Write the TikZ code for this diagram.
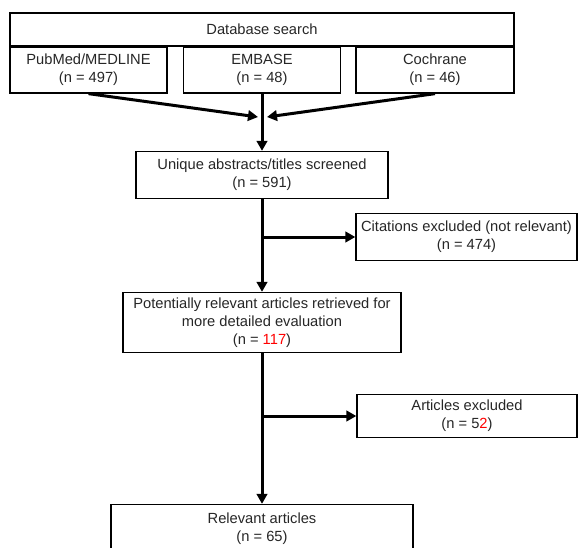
\documentclass[tikz,border=0pt]{standalone}
\usepackage{fontspec}
\setmainfont{Liberation Sans}
\usetikzlibrary{arrows.meta}

\begin{document}
\begin{tikzpicture}[x=1pt,y=-1pt,
	box/.style={draw=black, line width=1.3pt, align=center, inner sep=0pt, text=black!85, font=\fontsize{14.7}{18}\selectfont},
	flow/.style={line width=3pt, -{Triangle[length=10pt,width=10.5pt]}}]
	\useasboundingbox (0,0) rectangle (578,548);
	\node (DB) at (262,29.5)	[box, minimum width=504, minimum height=33]	{Database search};
	\node (PM) at (88.5,70)		[box, minimum width=157, minimum height=46]	{PubMed/MEDLINE\\(n = 497)};
	\node (EM) at (262,70)		[box, minimum width=157, minimum height=46]	{EMBASE\\(n = 48)};
	\node (CO) at (435,70)		[box, minimum width=158, minimum height=46]	{Cochrane\\(n = 46)};
	\node (UQ) at (262,175)		[box, minimum width=252, minimum height=47]	{Unique abstracts/titles screened\\(n = 591)};
	\node (CE) at (466.5,237)	[box, minimum width=221, minimum height=47]	{Citations excluded (not relevant)\\(n = 474)};
	\node (PR) at (262,322.5)	[box, minimum width=278, minimum height=60]	{Potentially relevant articles retrieved for\\more detailed evaluation\\(n = \textcolor{red}{117})};
	\node (AE) at (467,416)		[box, minimum width=220, minimum height=43]	{Articles excluded\\(n = 5\textcolor{red}{2})};
	\node (RA) at (262,529)		[box, minimum width=302, minimum height=49]	{Relevant articles\\(n = 65)};
	\coordinate (JL) at (258,117);
	\coordinate (JR) at (267,117);
	\draw[flow] (PM.south) -- (JL);
	\draw[flow] (CO.south) -- (JR);
	\draw[flow] (EM.south) -- (UQ.north);
	\draw[flow] (UQ.south) -- (PR.north);
	\draw[flow] (UQ.south |- CE.west) -- (CE.west);
	\draw[flow] (PR.south) -- (RA.north);
	\draw[flow] (PR.south |- AE.west) -- (AE.west);
\end{tikzpicture}
\end{document}
